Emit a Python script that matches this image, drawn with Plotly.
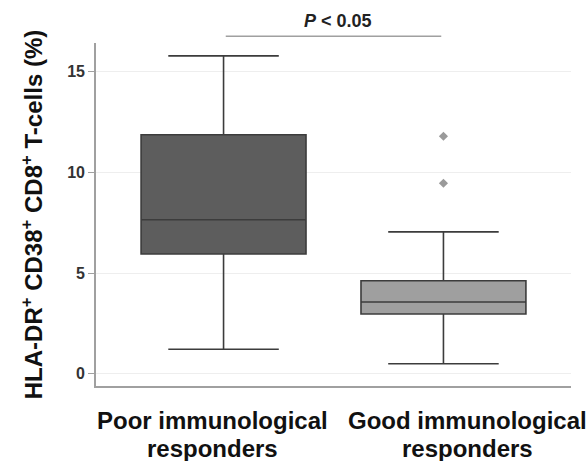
import plotly.graph_objects as go

# Group labels (one list per text line) and box summary statistics (%)
label_line1 = ["Poor immunological", "Good immunological"]
label_line2 = ["responders", "responders"]
lower_whisker = [1.22, 0.50]
q1 = [5.94, 2.97]
median = [7.64, 3.56]
q3 = [11.85, 4.62]
upper_whisker = [15.76, 7.04]
fills = ["#5d5d5d", "#9f9f9f"]

# Outlying observations in the good responder group
outlier_group = [1, 1]
outlier_values = [11.78, 9.45]

y_ticks = [0, 5, 10, 15]

fig = go.Figure()
for i in range(len(label_line1)):
    fig.add_trace(go.Box(
        x=[i],
        q1=[q1[i]], median=[median[i]], q3=[q3[i]],
        lowerfence=[lower_whisker[i]], upperfence=[upper_whisker[i]],
        width=0.75, whiskerwidth=0.67,
        fillcolor=fills[i],
        line=dict(color="#3c3c3c", width=1.6),
        boxpoints=False, showlegend=False, hoverinfo="skip",
    ))

fig.add_trace(go.Scatter(
    x=outlier_group, y=outlier_values, mode="markers",
    marker=dict(symbol="diamond", size=7, color="#9a9a9a"),
    showlegend=False, hoverinfo="skip",
))

# Category labels under the axis, spread slightly wider than the boxes
label_shift = [-0.05, 0.11]
for i in range(len(label_line1)):
    for text, ypos in ((label_line1[i], -0.100), (label_line2[i], -0.182)):
        fig.add_annotation(xref="x", yref="paper", x=i + label_shift[i], y=ypos,
                           yanchor="middle", text=f"<b>{text}</b>", showarrow=False,
                           font=dict(size=24, color="#111"))

# Significance bracket between the two groups
fig.add_shape(type="line", xref="x", yref="paper", x0=0.01, x1=0.99, y0=1.02, y1=1.02,
              line=dict(color="#a0a0a0", width=1.5))
fig.add_annotation(xref="x", yref="paper", x=0.52, y=1.03, yanchor="bottom",
                   text="<b><i>P</i> &lt; 0.05</b>", showarrow=False,
                   font=dict(size=18, color="#222"))

fig.update_layout(
    width=586, height=461,
    margin=dict(l=96, r=15, t=43, b=75),
    paper_bgcolor="white", plot_bgcolor="white",
    font=dict(family="Liberation Sans, Arial, sans-serif"),
)
fig.update_xaxes(
    range=[-0.58, 1.58], tickvals=[0, 1], showticklabels=False, ticks="",
    showgrid=False, zeroline=False,
    showline=True, linecolor="#a0a0a0", linewidth=1.6,
)
fig.update_yaxes(
    range=[-0.6, 16.4], tickvals=y_ticks, ticktext=[f"<b>{v}</b>" for v in y_ticks],
    tickfont=dict(size=16, color="#333"), ticks="outside", ticklen=6, tickcolor="#a0a0a0",
    showgrid=True, gridcolor="#eeeeee", gridwidth=1, zeroline=False,
    showline=True, linecolor="#a0a0a0", linewidth=1.6,
    title=dict(text="<b>HLA-DR<sup>+</sup> CD38<sup>+</sup> CD8<sup>+</sup> T-cells (%)</b>",
               font=dict(size=24, color="#111"), standoff=18),
)

fig.write_html("out.html")
